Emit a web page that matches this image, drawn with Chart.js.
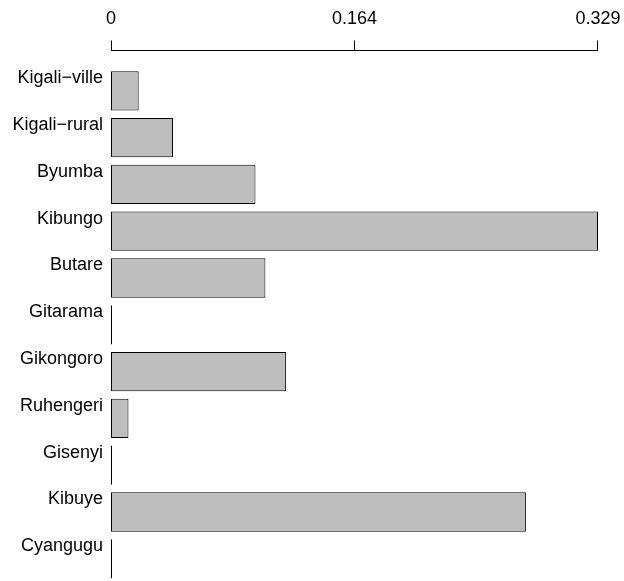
<!DOCTYPE html>
<html>
<head>
<meta charset="utf-8">
<script src="https://cdn.jsdelivr.net/npm/chart.js@4/dist/chart.umd.min.js"></script>
<style>
  html, body { margin: 0; padding: 0; background: #ffffff; overflow: hidden; }
  #wrap { width: 624px; height: 581px; overflow: hidden; }
  canvas { display: block; }
</style>
</head>
<body>
<div id="wrap"><canvas id="chart" width="624" height="590"></canvas></div>
<script>
// Rwandan prefectures, top to bottom
const provinces = ['Kigali\u2212ville', 'Kigali\u2212rural', 'Byumba', 'Kibungo', 'Butare', 'Gitarama',
                   'Gikongoro', 'Ruhengeri', 'Gisenyi', 'Kibuye', 'Cyangugu'];
const shares = [0.0187, 0.0419, 0.0976, 0.329, 0.1043, 0, 0.1183, 0.0118, 0, 0.2803, 0];
const tickValues = [0, 0.1645, 0.329];
const tickLabels = ['0', '0.164', '0.329'];
const axisMax = 0.329;

const FONT = "'Liberation Sans', Arial, Helvetica, sans-serif";

// Top axis drawn as a bracket above the plotting region
const topAxis = {
  id: 'topAxis',
  afterDraw(chart) {
    const xs = chart.scales.x;
    const ctx = chart.ctx;
    const yLine = 50.5;
    const tickLen = 10;
    const px = v => Math.floor(xs.getPixelForValue(v)) + 0.5;
    const last = tickValues.length - 1;
    ctx.save();
    ctx.strokeStyle = '#000000';
    ctx.lineWidth = 1;
    ctx.beginPath();
    ctx.moveTo(px(tickValues[0]) - 0.5, yLine);
    ctx.lineTo(px(tickValues[last]) - 0.5, yLine);
    tickValues.forEach((v, i) => {
      const x = i === last ? px(v) - 1 : px(v);
      ctx.moveTo(x, yLine);
      ctx.lineTo(x, yLine - tickLen);
    });
    ctx.stroke();
    ctx.restore();
  }
};

new Chart(document.getElementById('chart'), {
  type: 'bar',
  data: {
    labels: provinces,
    datasets: [{
      data: shares,
      backgroundColor: '#bebebe',
      borderColor: '#000000',
      borderWidth: 1,
      borderSkipped: false,
      inflateAmount: 0,
      minBarLength: 1,
      barPercentage: 0.84,
      categoryPercentage: 1.0
    }]
  },
  options: {
    indexAxis: 'y',
    responsive: false,
    animation: false,
    devicePixelRatio: 1,
    layout: { padding: { left: 0, right: 26, top: 0, bottom: 7.8 } },
    plugins: {
      legend: { display: false },
      tooltip: { enabled: false }
    },
    scales: {
      x: {
        position: 'top',
        min: 0,
        max: axisMax,
        grid: { display: false, drawTicks: false },
        border: { display: false },
        afterBuildTicks(scale) {
          scale.ticks = tickValues.map(v => ({ value: v }));
        },
        afterFit(scale) {
          scale.height = 67.4;
          scale.paddingLeft = 0;
          scale.paddingRight = 0;
        },
        ticks: {
          autoSkip: false,
          maxRotation: 0,
          padding: 38,
          color: '#000000',
          font: { family: FONT, size: 18 },
          callback: (v, i) => tickLabels[i]
        }
      },
      y: {
        grid: { display: false, drawTicks: false },
        border: { display: false },
        afterFit(scale) {
          scale.width = 111;
          scale.paddingTop = 0;
          scale.paddingBottom = 0;
        },
        ticks: {
          padding: 8,
          labelOffset: -12.5,
          color: '#000000',
          font: { family: FONT, size: 18 }
        }
      }
    }
  },
  plugins: [topAxis]
});
</script>
</body>
</html>
